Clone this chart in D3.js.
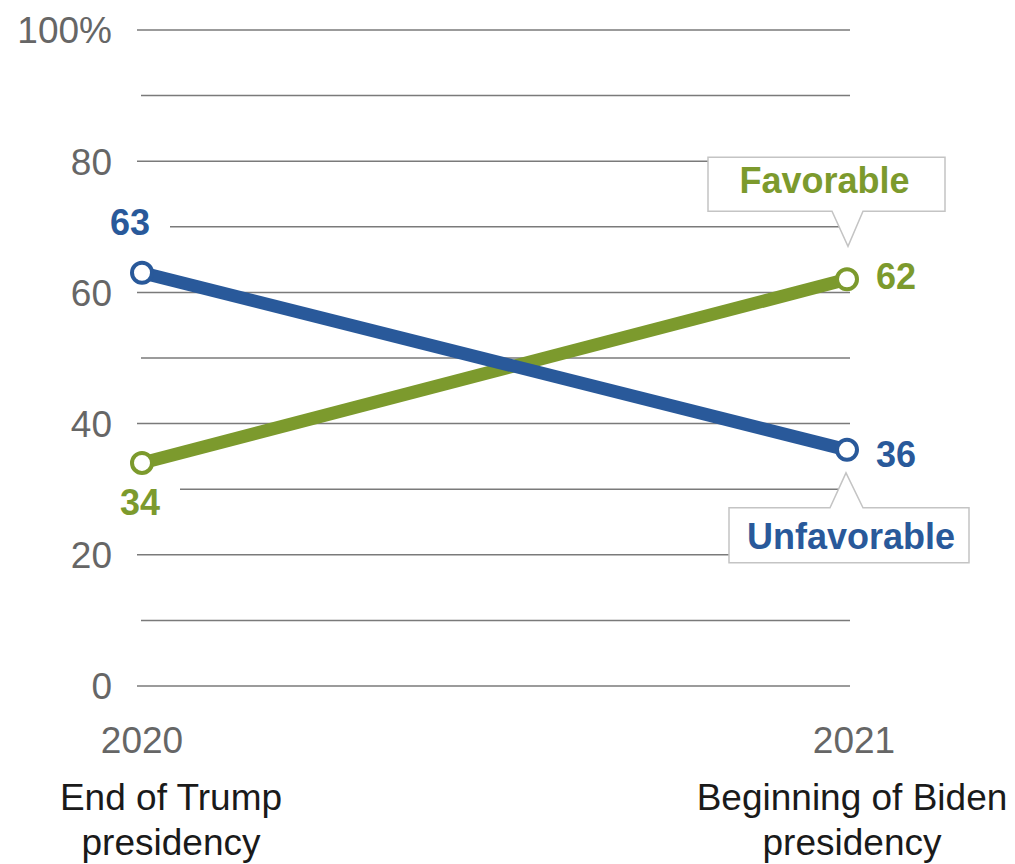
<!DOCTYPE html>
<html>
<head>
<meta charset="utf-8">
<script src="https://cdn.jsdelivr.net/npm/d3@7"></script>
<style>
  html, body { margin: 0; padding: 0; background: #fff; }
  svg { display: block; font-family: "Liberation Sans", Arial, sans-serif; }
</style>
</head>
<body>
<svg id="chart" width="1015" height="864"></svg>
<script>
// ---- data ----
const years = ["2020", "2021"];
const periodLabels = [["End of Trump", "presidency"], ["Beginning of Biden", "presidency"]];
const favorable = [34, 62];
const unfavorable = [63, 36];
const yTicks = [0, 20, 40, 60, 80, 100];
const yMinor = [10, 30, 50, 70, 90];
const seriesNames = ["Favorable", "Unfavorable"];

const blue = "#29599a";
const green = "#7c9a2d";

const svg = d3.select("#chart");
const x = d3.scalePoint().domain(years).range([142, 847]);
const y = d3.scaleLinear().domain([0, 100]).range([686, 30]);

// gridlines
const grid = svg.append("g");
grid.selectAll("line.major").data(yTicks).join("line")
  .attr("x1", 137).attr("x2", 850)
  .attr("y1", d => y(d)).attr("y2", d => y(d))
  .attr("stroke", "#7a7a7a").attr("stroke-width", 1.5);
grid.selectAll("line.minor").data(yMinor).join("line")
  .attr("x1", 141).attr("x2", 850)
  .attr("y1", d => y(d)).attr("y2", d => y(d))
  .attr("stroke", "#7a7a7a").attr("stroke-width", 1.5);

// y tick labels
svg.append("g").selectAll("text").data(yTicks).join("text")
  .attr("x", 112).attr("y", d => y(d)).attr("dy", "0.36em")
  .attr("text-anchor", "end")
  .attr("font-size", 37).attr("fill", "#666")
  .text(d => d === 100 ? "100%" : d);

// x year labels
svg.append("g").selectAll("text").data(years).join("text")
  .attr("x", (d, i) => x(d) + (i === 0 ? 0 : 7)).attr("y", 753)
  .attr("text-anchor", "middle")
  .attr("font-size", 37).attr("fill", "#666")
  .text(d => d);

// period labels
const pl = svg.append("g");
years.forEach((yr, i) => {
  const cx = x(yr) + (i === 0 ? 29 : 5);
  periodLabels[i].forEach((t, j) => {
    pl.append("text")
      .attr("x", cx).attr("y", 810 + j * 45)
      .attr("text-anchor", "middle")
      .attr("font-size", 37).attr("fill", "#1a1a1a")
      .text(t);
  });
});

// left value labels with white background (covers gridlines)
const leftLabels = [
  { v: unfavorable[0], color: blue, dx: -12, dy: -38 },
  { v: favorable[0], color: green, dx: -2, dy: 52 }
];
leftLabels.forEach(l => {
  const lx = x(years[0]) + l.dx, ly = y(l.v) + l.dy;
  svg.append("rect")
    .attr("x", lx - 40).attr("y", ly - 28).attr("width", 80).attr("height", 34)
    .attr("fill", "#fff");
});

// lines
const line = d3.line().x((d, i) => x(years[i])).y(d => y(d));
svg.append("path").datum(favorable).attr("d", line)
  .attr("fill", "none").attr("stroke", green).attr("stroke-width", 13);
svg.append("path").datum(unfavorable).attr("d", line)
  .attr("fill", "none").attr("stroke", blue).attr("stroke-width", 13);

// points
[[favorable, green], [unfavorable, blue]].forEach(([vals, col]) => {
  svg.append("g").selectAll("circle").data(vals).join("circle")
    .attr("cx", (d, i) => x(years[i])).attr("cy", d => y(d))
    .attr("r", 10).attr("fill", "#fff").attr("stroke", col).attr("stroke-width", 4);
});

// left value labels text
leftLabels.forEach(l => {
  svg.append("text")
    .attr("x", x(years[0]) + l.dx).attr("y", y(l.v) + l.dy)
    .attr("text-anchor", "middle").attr("font-weight", "bold")
    .attr("font-size", 36).attr("fill", l.color)
    .text(l.v);
});

// right value labels
[[favorable[1], green, 10], [unfavorable[1], blue, 17]].forEach(([v, col, off]) => {
  svg.append("text")
    .attr("x", x(years[1]) + 29).attr("y", y(v) + off)
    .attr("font-weight", "bold").attr("font-size", 36).attr("fill", col)
    .text(v);
});

// callouts
function callout(name, col, px, py, above) {
  const g = svg.append("g");
  let d;
  if (above) {
    const tipY = py - 33, baseY = tipY - 35, top = baseY - 54;
    const l = px - 139, r = px + 98;
    d = `M${l},${top}H${r}V${baseY}H${px + 16}L${px + 1},${tipY}L${px - 15},${baseY}H${l}Z`;
    g.append("path").attr("d", d).attr("fill", "#fff").attr("stroke", "#c4c4c4").attr("stroke-width", 1.5);
    g.append("text").attr("x", (l + r) / 2 - 2).attr("y", baseY - 18)
      .attr("text-anchor", "middle").attr("font-weight", "bold")
      .attr("font-size", 36).attr("fill", col).text(name);
  } else {
    const tipY = py + 23, baseY = tipY + 35, bot = baseY + 55;
    const l = px - 118, r = px + 122;
    d = `M${l},${baseY}H${px - 17}L${px - 1},${tipY}L${px + 16},${baseY}H${r}V${bot}H${l}Z`;
    g.append("path").attr("d", d).attr("fill", "#fff").attr("stroke", "#c4c4c4").attr("stroke-width", 1.5);
    g.append("text").attr("x", (l + r) / 2 + 2).attr("y", bot - 14)
      .attr("text-anchor", "middle").attr("font-weight", "bold")
      .attr("font-size", 36).attr("fill", col).text(name);
  }
}
callout(seriesNames[0], green, x(years[1]), y(favorable[1]), true);
callout(seriesNames[1], blue, x(years[1]), y(unfavorable[1]), false);
</script>
</body>
</html>
